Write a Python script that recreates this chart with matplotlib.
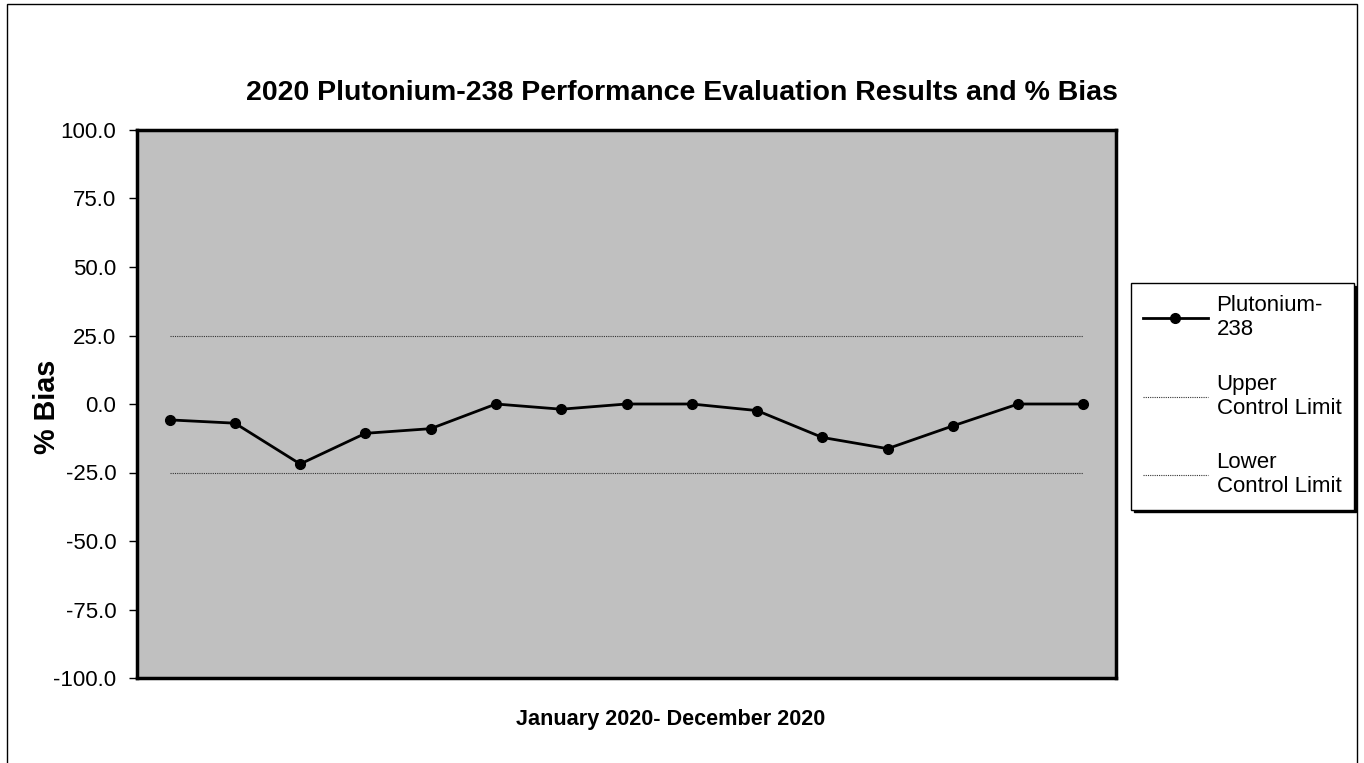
import numpy as np
import matplotlib
matplotlib.use('Agg')
import matplotlib.pyplot as plt
from matplotlib.patches import Rectangle
from matplotlib.lines import Line2D

plt.rcParams['font.family'] = ['Liberation Sans', 'DejaVu Sans']

# data (% bias, 15 results over 2020)
bias = [-5.8, -7.0, -21.9, -10.7, -9.0, 0.0, -1.9, 0.0, 0.0, -2.4, -12.2, -16.3, -8.0, 0.0, 0.0]
UCL = 25.0
LCL = -25.0
yticks = [100, 75, 50, 25, 0, -25, -50, -75, -100]

x = np.arange(len(bias))
ucl = [UCL] * len(bias)
lcl = [LCL] * len(bias)

fig = plt.figure(figsize=(13.64, 7.63), dpi=100)
W, H = 1364, 763
ax = fig.add_axes([137 / W, 1 - 678 / H, (1116 - 137) / W, (678 - 130) / H])
ax.set_facecolor('#C0C0C0')

ax.plot(x, ucl, color='#333333', linestyle=(0, (1, 1)), linewidth=0.8)
ax.plot(x, lcl, color='#333333', linestyle=(0, (1, 1)), linewidth=0.8)
ax.plot(x, bias, color='black', linewidth=2.0, marker='o', markersize=7)

ax.set_xlim(-0.5, len(bias) - 0.5)
ax.set_ylim(-100, 100)
ax.set_yticks(yticks)
ax.set_yticklabels(['%.1f' % v for v in yticks])
ax.set_xticks([])
ax.tick_params(axis='y', direction='out', length=6, width=1, pad=9, labelsize=16)
for s in ax.spines.values():
    s.set_linewidth(2.5)
    s.set_color('black')

fig.text(682 / W, 1 - 93 / H, '2020 Plutonium-238 Performance Evaluation Results and % Bias',
         ha='center', va='center', fontsize=20.5, fontweight='bold')
fig.text(671 / W, 1 - 719 / H, 'January 2020- December 2020',
         ha='center', va='center', fontsize=15.6, fontweight='bold')
fig.text(47 / W, 1 - 407 / H, '% Bias', rotation=90,
         ha='center', va='center', fontsize=20.7, fontweight='bold')

handles = [Line2D([], [], color='black', linewidth=2.0, marker='o', markersize=7),
           Line2D([], [], color='#333333', linestyle=(0, (1, 1)), linewidth=0.8),
           Line2D([], [], color='#333333', linestyle=(0, (1, 1)), linewidth=0.8)]
labels = ['Plutonium-\n238', 'Upper\nControl Limit', 'Lower\nControl Limit']
leg = fig.legend(handles, labels, loc='upper left', bbox_to_anchor=(1131 / W, 1 - 283 / H),
                 borderaxespad=0, fontsize=16, frameon=True, fancybox=False,
                 handlelength=2.9, handletextpad=0.4, labelspacing=1.5, borderpad=0.55,
                 markerscale=1, shadow={'color': 'black', 'alpha': 1.0})
leg.get_frame().set_edgecolor('black')
leg.get_frame().set_linewidth(1)

# outer chart border
fig.patches.append(Rectangle((7 / W, -0.01), (1357 - 7) / W, 1.01 - 4 / H,
                             transform=fig.transFigure, fill=False,
                             edgecolor='black', linewidth=1))

fig.savefig('out.png', dpi=100)
